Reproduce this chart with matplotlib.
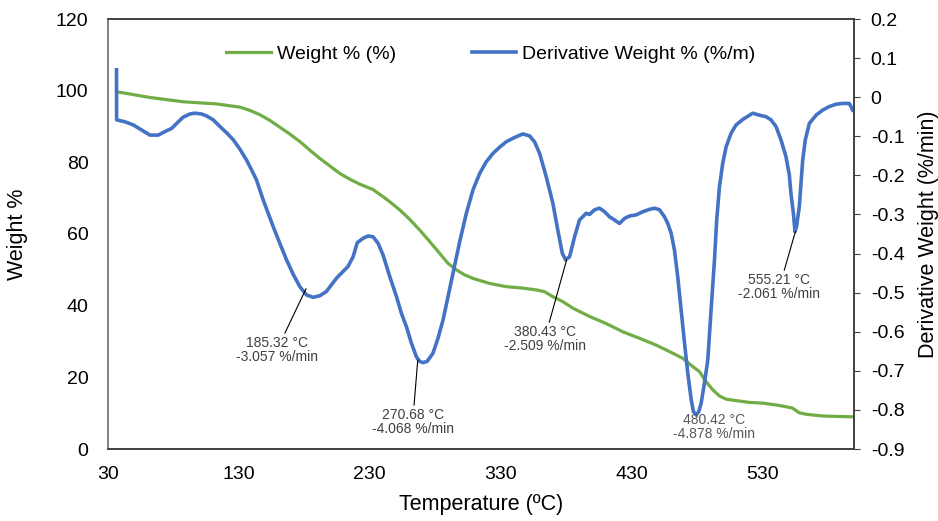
import numpy as np
import matplotlib
matplotlib.use('Agg')
import matplotlib.pyplot as plt
from matplotlib.ticker import FuncFormatter

plt.rcParams['font.family'] = ['Liberation Sans', 'DejaVu Sans']

# weight % curve
temp_w = [36.6, 62, 87.5, 113, 130.8, 138.4, 146, 153.7, 161.3, 168.9, 176.6,
          184.2, 191.8, 199.5, 207.1, 214.7, 222.4, 232.5, 240.2, 245.3, 253,
          260.5, 268.2, 275.8, 283.4, 289.8, 296.2, 302.5, 308.9, 321.6, 334.3,
          347, 357.2, 363.6, 369.9, 377.6, 385.2, 397.9, 410.7, 423.4, 436.1,
          448.8, 459, 469.2, 476.8, 481.9, 487, 492.1, 497.2, 502.3, 509.9,
          520.1, 530.2, 540.4, 548, 553.1, 558.2, 563.3, 568.4, 576.1, 586.3,
          596.4, 599]
weight = [99.7, 98.1, 96.9, 96.3, 95.4, 94.5, 93.3, 91.7, 89.8, 87.9, 85.8,
          83.4, 81.1, 79.0, 76.9, 75.3, 73.9, 72.4, 70.4, 69.0, 66.7,
          64.1, 61.1, 57.9, 54.6, 51.8, 50.0, 48.6, 47.6, 46.2, 45.3,
          44.9, 44.4, 43.9, 42.5, 41.1, 39.3, 37.0, 35.0, 32.7, 30.9,
          29.0, 27.2, 25.3, 23.0, 21.6, 18.8, 16.5, 14.8, 13.9, 13.5,
          13.0, 12.8, 12.3, 11.8, 11.4, 10.1, 9.7, 9.5, 9.2, 9.1,
          9.0, 9.0]

# derivative weight curve
temp_d = [36.5, 36.6, 43.0, 49.3, 55.7, 62.1, 68.4, 73.5, 78.6, 83.7, 87.5,
          92.6, 96.4, 101.5, 105.3, 110.4, 115.5, 120.6, 125.7, 130.8, 135.9,
          139.7, 143.5, 146.0, 148.6, 152.4, 156.2, 161.3, 166.4, 171.5, 176.6,
          181.7, 186.7, 191.8, 196.9, 200.8, 204.6, 209.6, 213.4, 217.3, 220.5,
          224.9, 228.7, 232.5, 236.4, 240.2, 245.3, 250.4, 254.2, 258.0, 261.8,
          265.6, 268.2, 270.7, 273.8, 278.3, 282.1, 286.0, 289.8, 293.6, 298.7,
          303.8, 308.9, 314.0, 319.1, 324.1, 329.2, 334.3, 340.7, 347.0, 352.1,
          355.9, 359.8, 364.8, 369.9, 373.7, 377.1, 379.6, 382.7, 386.5, 390.3,
          395.4, 397.9, 401.8, 405.6, 409.4, 413.2, 417.0, 420.8, 424.7, 428.5,
          433.6, 438.6, 443.7, 447.6, 451.4, 455.2, 457.7, 460.3, 462.8, 465.3,
          467.9, 470.5, 473.0, 475.6, 477.3, 479.4, 481.4, 483.2, 485.7, 488.3,
          490.8, 493.4, 495.1, 497.2, 499.7, 502.3, 506.1, 509.9, 515.0, 522.6,
          527.7, 532.8, 536.6, 540.4, 544.2, 548.0, 550.6, 551.8, 553.7, 554.9,
          556.1, 558.2, 559.5, 560.8, 562.8, 565.9, 571.0, 576.1, 581.1, 586.3,
          591.3, 596.4, 599.0]
deriv = [0.07, -0.058, -0.063, -0.071, -0.084, -0.097, -0.097, -0.088, -0.080, -0.063, -0.051,
         -0.043, -0.041, -0.043, -0.048, -0.058, -0.075, -0.091, -0.109, -0.133, -0.161,
         -0.186, -0.212, -0.237, -0.263, -0.297, -0.331, -0.374, -0.416, -0.453, -0.485,
         -0.506, -0.512, -0.508, -0.497, -0.480, -0.463, -0.446, -0.433, -0.408, -0.372,
         -0.361, -0.355, -0.357, -0.374, -0.404, -0.459, -0.510, -0.553, -0.587, -0.629,
         -0.664, -0.676, -0.679, -0.676, -0.655, -0.617, -0.570, -0.510, -0.450, -0.370,
         -0.297, -0.237, -0.195, -0.165, -0.144, -0.128, -0.114, -0.103, -0.094, -0.099,
         -0.114, -0.144, -0.203, -0.271, -0.340, -0.399, -0.416, -0.408, -0.357, -0.314,
         -0.297, -0.300, -0.288, -0.284, -0.293, -0.306, -0.314, -0.323, -0.310, -0.304,
         -0.301, -0.293, -0.287, -0.284, -0.288, -0.306, -0.323, -0.348, -0.391, -0.459,
         -0.544, -0.629, -0.706, -0.774, -0.804, -0.813, -0.804, -0.783, -0.732, -0.672,
         -0.544, -0.416, -0.314, -0.229, -0.169, -0.127, -0.092, -0.071, -0.057, -0.041,
         -0.046, -0.050, -0.058, -0.075, -0.109, -0.152, -0.199, -0.246, -0.297, -0.344,
         -0.331, -0.280, -0.220, -0.161, -0.109, -0.067, -0.046, -0.033, -0.024, -0.018,
         -0.016, -0.016, -0.033]

# peak labels
peak_t = [185.32, 270.68, 380.43, 480.42, 555.21]
peak_rate = ['-3.057', '-4.068', '-2.509', '-4.878', '-2.061']
peak_d = [-0.49, -0.672, -0.416, -0.813, -0.344]
label_t = [159, 262.8, 363.6, 493.4, 543]
label_d = [-0.611, -0.795, -0.583, -0.808, -0.45]
has_leader = [True, True, True, False, True]

green = '#70AD47'
blue = '#4472C4'

fig = plt.figure(figsize=(9.38, 5.21), dpi=100)
ax1 = fig.add_axes([108/938, 1 - 449/521, 746/938, 430/521])
ax2 = ax1.twinx()

l1, = ax1.plot(temp_w, weight, color=green, lw=2.3, solid_joinstyle='round',
               label='Weight % (%)')
l2, = ax2.plot(temp_d, deriv, color=blue, lw=2.6, solid_joinstyle='round',
               label='Derivative Weight % (%/m)')

ax1.set_xlim(30, 600)
ax1.set_ylim(0, 120)
ax2.set_ylim(-0.9, 0.2)
ax1.set_xticks(np.arange(30, 600, 100))
ax1.set_yticks(np.arange(0, 121, 20))
ax2.set_yticks(np.round(np.arange(-0.9, 0.21, 0.1), 1))
ax2.yaxis.set_major_formatter(FuncFormatter(lambda v, p: '0' if abs(v) < 1e-9 else f'{v:.1f}'))

ax1.tick_params(axis='x', length=0, pad=12, labelsize=14)
ax1.tick_params(axis='y', length=0, pad=14, labelsize=14)
ax2.tick_params(axis='y', length=4, pad=8, labelsize=14, color='#404040')

for ax in (ax1, ax2):
    for s in ax.spines.values():
        s.set_color('#404040')
        s.set_linewidth(1.2)
ax2.spines['left'].set_color('#808080')
ax1.spines['left'].set_color('#808080')

ax1.set_xlabel('Temperature (ºC)', fontsize=15.5, labelpad=8)
ax1.set_ylabel('Weight %', fontsize=15.5, labelpad=20)
ax2.set_ylabel('Derivative Weight (%/min)', fontsize=15.5, labelpad=10)

for t, r, yd, lt, ld, lead in zip(peak_t, peak_rate, peak_d, label_t, label_d, has_leader):
    txt = f'{t:.2f} °C\n{r} %/min'
    if lead:
        ax2.annotate(txt, xy=(t - 4 if t < 300 else t, yd), xytext=(lt, ld),
                     ha='center', va='top', fontsize=10, color='#404040',
                     linespacing=1.0,
                     arrowprops=dict(arrowstyle='-', color='black', lw=0.8,
                                     shrinkA=0, shrinkB=0))
    else:
        ax2.text(lt, ld, txt, ha='center', va='top', fontsize=10,
                 color='#595959', linespacing=1.0)

ax1.legend([l1, l2], [l1.get_label(), l2.get_label()], loc='center',
           bbox_to_anchor=(0.513, 0.919), ncol=2, frameon=False, fontsize=14,
           handlelength=2.3, handletextpad=0.3, columnspacing=3.9)

fig.savefig('out.png', dpi=100)
